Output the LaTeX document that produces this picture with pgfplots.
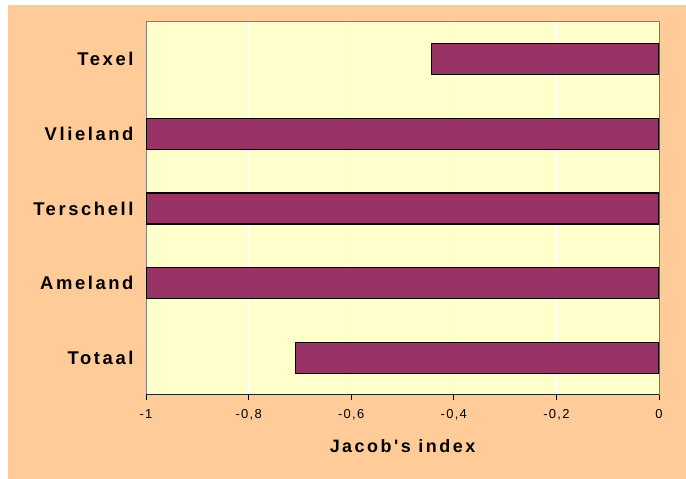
\documentclass[border=0pt]{standalone}
\usepackage{pgfplots}
\pgfplotsset{compat=1.18}
\usepackage{fontspec}
\setmainfont{Liberation Sans}
\newfontfamily\catfont[LetterSpace=14]{Liberation Sans}
\newfontfamily\tickfont[LetterSpace=10]{Liberation Sans}
\definecolor{bgorange}{HTML}{FFCC99}
\definecolor{plotyellow}{HTML}{FFFFCC}
\definecolor{barpurple}{HTML}{993366}
\begin{document}
\begin{tikzpicture}[x=1bp,y=1bp]
\fill[white] (0,0) rectangle (686,479);
\fill[bgorange] (8,0) rectangle (686,474);
\begin{axis}[
  at={(146bp,84bp)}, anchor=south west,
  scale only axis, width=513bp, height=373bp,
  xmin=-1, xmax=0, ymin=-0.5, ymax=4.5,
  xbar, bar width=31bp,
  axis background/.style={fill=plotyellow},
  axis line style={draw=gray, line width=1bp},
  tick align=outside,
  xtick={-1,-0.8,-0.6,-0.4,-0.2,0},
  xtick pos=bottom,
  xmajorgrids, grid style={white, line width=0.8bp},
  major tick length=5bp,
  tick style={black, line width=0.8bp},
  /pgf/number format/assume math mode=true,
  /pgf/number format/use comma,
  /pgf/number format/fixed,
  xticklabel style={font=\tickfont\fontsize{13}{13}\selectfont, yshift=-6bp},
  ytick={0,1,2,3,4},
  yticklabels={Totaal,Ameland,Terschell,Vlieland,Texel},
  ytick pos=left,
  ytick style={draw=none},
  yticklabel style={font=\catfont\bfseries\fontsize{18.5}{18.5}\selectfont, anchor=east, xshift=-4bp},
  xlabel={Jacob's index},
  xlabel style={font=\catfont\bfseries\fontsize{18}{18}\selectfont, at={(axis description cs:0.5,0)}, anchor=center, yshift=-51bp},
]
\addplot[fill=barpurple, draw=black, line width=1.2bp] coordinates {
  (-0.708,0) (-1,1) (-1,2) (-1,3) (-0.443,4)
};
\draw[black!85, line width=1bp] (rel axis cs:0,0) -- (rel axis cs:1,0) -- (rel axis cs:1,1);
\pgfplotsinvokeforeach{0.5,1.5,2.5,3.5}{
  \draw[black, line width=0.8bp] (axis cs:0,#1) -- ++(-5bp,0);
}
\end{axis}
\end{tikzpicture}
\end{document}
